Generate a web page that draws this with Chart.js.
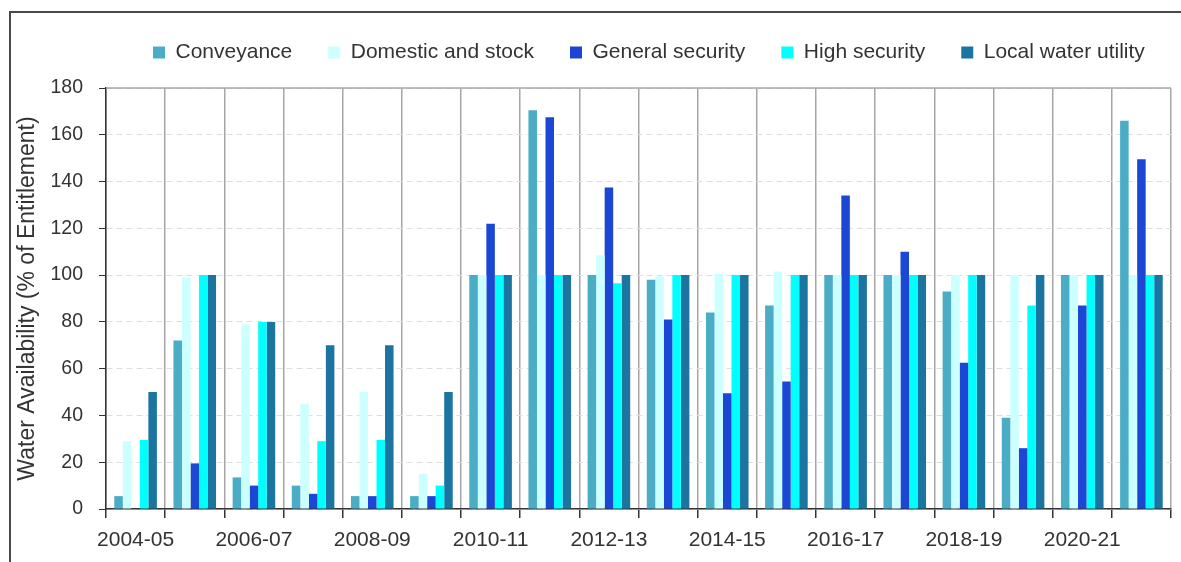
<!DOCTYPE html>
<html>
<head>
<meta charset="utf-8">
<title>Water availability</title>
<script src="https://cdn.jsdelivr.net/npm/chart.js@4.4.1/dist/chart.umd.min.js"></script>
<style>
  html, body { margin: 0; padding: 0; background: #fff; }
  #wrap { position: relative; width: 1181px; height: 562px; overflow: hidden; }
  #frame { position: absolute; left: 9px; top: 11px; width: 1300px; height: 700px;
           border-left: 2px solid #4a4a4a; border-top: 2px solid #4a4a4a; }
  canvas { position: absolute; left: 0; top: 0; }
</style>
</head>
<body>
<div id="wrap">
  <div id="frame"></div>
  <canvas id="myChart" width="1181" height="562"></canvas>
</div>
<script>
const seasons = ['2004-05', '2005-06', '2006-07', '2007-08', '2008-09', '2009-10',
  '2010-11', '2011-12', '2012-13', '2013-14', '2014-15', '2015-16',
  '2016-17', '2017-18', '2018-19', '2019-20', '2020-21', '2021-22'];

const conveyance = [5.5, 72, 13.5, 10, 5.5, 5.5, 100, 170.5, 100, 98, 84, 87, 100, 100, 93, 39, 100, 166];
const domestic   = [29, 99, 79, 45, 50, 15, 100, 100, 108.5, 99.5, 100.5, 101.5, 100, 100, 100, 100, 100, 100];
const general    = [0, 19.5, 10, 6.5, 5.5, 5.5, 122, 167.5, 137.5, 81, 49.5, 54.5, 134, 110, 62.5, 26, 87, 149.5];
const high       = [29.5, 100, 80, 29, 29.5, 10, 100, 100, 96.5, 100, 100, 100, 100, 100, 100, 87, 100, 100];
const local      = [50, 100, 80, 70, 70, 50, 100, 100, 100, 100, 100, 100, 100, 100, 100, 100, 100, 100];

const seriesNames  = ['Conveyance', 'Domestic and stock', 'General security', 'High security', 'Local water utility'];
const seriesColors = ['#4BACC6', '#CCFFFF', '#1C46D4', '#00FFFF', '#1B75A0'];

// legend: shorter box so the plot starts higher, and moved right
const chartTweaks = {
  id: 'chartTweaks',
  afterInit(chart) {
    const legend = chart.legend;
    const baseFit = legend.fit;
    legend.fit = function () {
      baseFit.call(this);
      this.height = 82;
    };
  },
  afterLayout(chart) {
    chart.legend.left = 117;
    chart.legend.right = 1400;
  },
  afterDraw(chart) {
    const {ctx, chartArea} = chart;
    ctx.save();
    ctx.strokeStyle = '#a6a6a6';
    ctx.lineWidth = 1.5;
    ctx.beginPath();
    ctx.moveTo(chartArea.left, chartArea.top);
    ctx.lineTo(chartArea.right, chartArea.top);
    ctx.stroke();
    ctx.restore();
  }
};

Chart.defaults.font.family = "'Liberation Sans', Arial, sans-serif";
Chart.defaults.color = '#333';

const allSeries = [conveyance, domestic, general, high, local];

new Chart(document.getElementById('myChart'), {
  type: 'bar',
  data: {
    labels: seasons,
    datasets: allSeries.map((values, i) => ({
      label: seriesNames[i],
      data: values,
      backgroundColor: seriesColors[i],
      borderWidth: 0,
      categoryPercentage: 0.72,
      barPercentage: 1.0
    }))
  },
  options: {
    responsive: false,
    animation: false,
    devicePixelRatio: 1,
    layout: { padding: { top: 6, right: 10, left: 0, bottom: 0 } },
    plugins: {
      legend: {
        position: 'top',
        align: 'start',
        labels: { boxWidth: 12, boxHeight: 12, padding: 36, color: '#333', font: { size: 21 } }
      },
      tooltip: { enabled: false }
    },
    scales: {
      x: {
        grid: { color: '#a6a6a6', lineWidth: 1.5, tickColor: '#333', tickLength: 9, offset: true },
        border: { color: '#333', width: 1.5 },
        ticks: {
          autoSkip: false,
          maxRotation: 0,
          padding: 10,
          color: '#333',
          font: { size: 21 },
          callback: (value, index) => (index % 2 === 0 ? seasons[index] : '')
        },
        afterFit: (scale) => { scale.height = 53; }
      },
      y: {
        min: 0,
        max: 180,
        grid: { color: '#dedede', lineWidth: 1, tickColor: '#333', tickLength: 7 },
        border: { color: '#333', width: 1.5, dash: [6, 4] },
        ticks: { stepSize: 20, padding: 16, color: '#333', font: { size: 19.5 } },
        title: {
          display: true,
          text: 'Water Availability (% of Entitlement)',
          color: '#333',
          font: { size: 23 },
          padding: { top: 14, bottom: 0 }
        },
        afterFit: (scale) => { scale.width = 106; }
      }
    }
  },
  plugins: [chartTweaks]
});
</script>
</body>
</html>
